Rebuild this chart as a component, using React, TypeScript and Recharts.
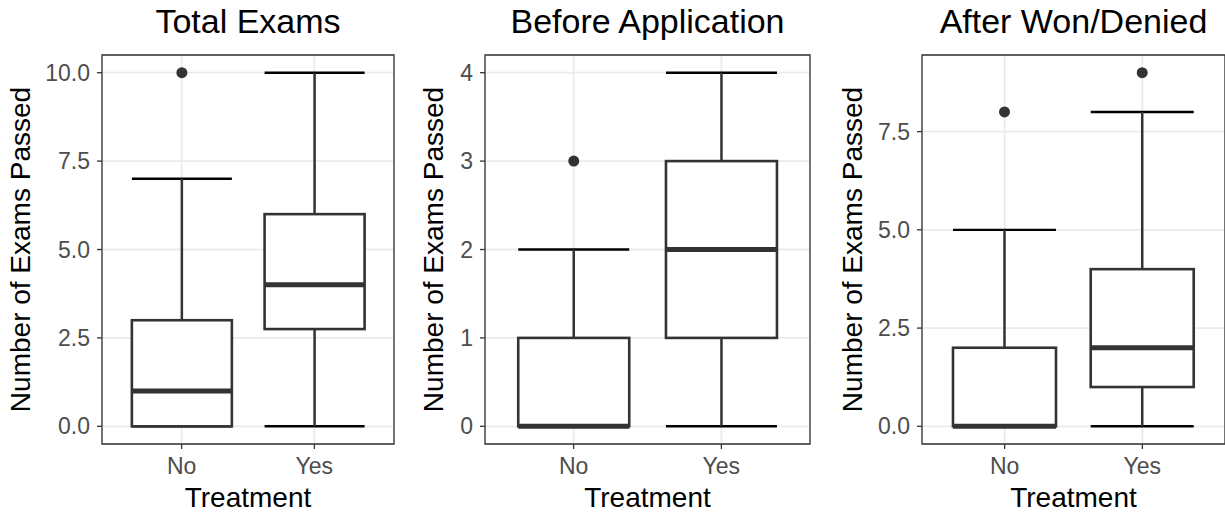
import React from "react";
import {
  ComposedChart,
  Bar,
  XAxis,
  YAxis,
  CartesianGrid,
  ReferenceArea,
} from "recharts";

// ---------- data ----------
const CATEGORIES = ["No", "Yes"];

// Panel 1: Total Exams
const totalLower = [0, 0];
const totalQ1 = [0, 2.75];
const totalMedian = [1, 4];
const totalQ3 = [3, 6];
const totalUpper = [7, 10];
const totalOutlier: (number | null)[] = [10, null];
const totalTicks = [0, 2.5, 5, 7.5, 10];
const totalTickLabels = ["0.0", "2.5", "5.0", "7.5", "10.0"];
const totalMinor = [1.25, 3.75, 6.25, 8.75];

// Panel 2: Before Application
const beforeLower = [0, 0];
const beforeQ1 = [0, 1];
const beforeMedian = [0, 2];
const beforeQ3 = [1, 3];
const beforeUpper = [2, 4];
const beforeOutlier: (number | null)[] = [3, null];
const beforeTicks = [0, 1, 2, 3, 4];
const beforeTickLabels = ["0", "1", "2", "3", "4"];
const beforeMinor = [0.5, 1.5, 2.5, 3.5];

// Panel 3: After Won/Denied
const afterLower = [0, 0];
const afterQ1 = [0, 1];
const afterMedian = [0, 2];
const afterQ3 = [2, 4];
const afterUpper = [5, 8];
const afterOutlier: (number | null)[] = [8, 9];
const afterTicks = [0, 2.5, 5, 7.5];
const afterTickLabels = ["0.0", "2.5", "5.0", "7.5"];
const afterMinor = [1.25, 3.75, 6.25, 8.75];

const FONT = '"Liberation Sans", Arial, Helvetica, sans-serif';
const H = 513;
const PLOT_TOP = 55;
const X_AXIS_H = 69;

// ---------- shapes ----------
const WhiskerShape = (p: any) => {
  const { x, y, width, height } = p;
  if (x == null || y == null) return <g />;
  const cx = x + width / 2;
  return (
    <g>
      <line x1={x} x2={x + width} y1={y} y2={y} stroke="#000" strokeWidth={2.4} />
      <line x1={x} x2={x + width} y1={y + height} y2={y + height} stroke="#000" strokeWidth={2.4} />
      <line x1={cx} x2={cx} y1={y} y2={y + height} stroke="#333" strokeWidth={2.5} />
    </g>
  );
};

const BoxShape = (p: any) => {
  const { x, y, width, height } = p;
  if (x == null || y == null) return <g />;
  return <rect x={x} y={y} width={width} height={height} fill="#fff" stroke="#333" strokeWidth={2.6} />;
};

const MedianShape = (p: any) => {
  const { x, y, width } = p;
  if (x == null || y == null) return <g />;
  return <line x1={x} x2={x + width} y1={y} y2={y} stroke="#333" strokeWidth={5} />;
};

const OutlierShape = (p: any) => {
  const { x, y, width, payload } = p;
  if (!payload || payload.outlier == null || x == null || y == null) return <g />;
  return <circle cx={x + width / 2} cy={y} r={5.5} fill="#333" />;
};

type PanelProps = {
  title: string;
  slotLeft: number;
  slotWidth: number;
  plotLeft: number;
  plotRight: number;
  yTitleX: number;
  lower: number[];
  q1: number[];
  median: number[];
  q3: number[];
  upper: number[];
  outlier: (number | null)[];
  ticks: number[];
  tickLabels: string[];
  minor: number[];
};

function BoxPanel(props: PanelProps) {
  const { title, slotLeft, slotWidth, plotLeft, plotRight, yTitleX, lower, q1, median, q3, upper, outlier, ticks, tickLabels, minor } = props;
  const rows = CATEGORIES.map((c, i) => ({
    x: i + 1,
    cat: c,
    whisker: [lower[i], upper[i]],
    box: [q1[i], q3[i]],
    median: [median[i], median[i]],
    outlier: outlier[i] == null ? null : [outlier[i] as number, outlier[i] as number],
  }));
  const allVals = [...lower, ...upper, ...(outlier.filter((v) => v != null) as number[])];
  const dMin = Math.min(...allVals);
  const dMax = Math.max(...allVals);
  const pad = (dMax - dMin) * 0.05;
  const yDomain: [number, number] = [dMin - pad, dMax + pad];
  const xDomain: [number, number] = [0.4, CATEGORIES.length + 0.6];
  const xTicks = CATEGORIES.map((_, i) => i + 1);

  const yAxisWidth = plotLeft - slotLeft;
  const marginRight = slotLeft + slotWidth - plotRight;

  const yTitle = (lp: any) => {
    const vb = lp && lp.viewBox ? lp.viewBox : { x: 0, y: PLOT_TOP, width: yAxisWidth, height: H - PLOT_TOP - X_AXIS_H };
    const cx = vb.x + yTitleX;
    const cy = vb.y + vb.height / 2;
    return (
      <text x={cx} y={cy} transform={`rotate(-90 ${cx} ${cy})`} textAnchor="middle" fontSize={28} fill="#000" fontFamily={FONT}>
        Number of Exams Passed
      </text>
    );
  };

  const hiddenX = (id: string) => (
    <XAxis key={id} xAxisId={id} type="number" dataKey="x" domain={xDomain} ticks={xTicks} height={0} hide />
  );

  const plotCenter = (plotLeft + plotRight) / 2 - slotLeft;

  return (
    <div style={{ position: "absolute", left: slotLeft, top: 0, width: slotWidth, height: H }}>
      <div
        style={{
          position: "absolute",
          left: plotCenter - 200,
          width: 400,
          top: 4,
          textAlign: "center",
          fontSize: 34,
          lineHeight: "34px",
          color: "#000",
          fontFamily: FONT,
          whiteSpace: "nowrap",
        }}
      >
        {title}
      </div>
      <ComposedChart
        width={slotWidth}
        height={H}
        data={rows}
        margin={{ top: PLOT_TOP, right: marginRight, bottom: 0, left: 0 }}
        barCategoryGap="12.5%"
        style={{ fontFamily: FONT }}
      >
        <CartesianGrid xAxisId="main" yAxisId="minor" vertical={false} stroke="#ebebeb" strokeWidth={0.9} />
        <CartesianGrid xAxisId="main" yAxisId="main" stroke="#ebebeb" strokeWidth={1.8} />
        <XAxis
          xAxisId="main"
          type="number"
          dataKey="x"
          domain={xDomain}
          ticks={xTicks}
          interval={0}
          tickFormatter={(v: number) => CATEGORIES[v - 1]}
          height={X_AXIS_H}
          axisLine={false}
          tickSize={5}
          tickMargin={9}
          tickLine={{ stroke: "#333", strokeWidth: 1.3 }}
          tick={{ fill: "#4d4d4d", fontSize: 23, fontFamily: FONT }}
          label={{ value: "Treatment", position: "insideBottom", offset: 6, fill: "#000", fontSize: 28, fontFamily: FONT }}
        />
        {hiddenX("w")}
        {hiddenX("b")}
        {hiddenX("m")}
        {hiddenX("o")}
        <YAxis
          yAxisId="main"
          type="number"
          domain={yDomain}
          ticks={ticks}
          interval={0}
          tickFormatter={(v: number) => tickLabels[ticks.indexOf(v)]}
          width={yAxisWidth}
          axisLine={false}
          tickSize={5}
          tickMargin={7}
          tickLine={{ stroke: "#333", strokeWidth: 1.3 }}
          tick={{ fill: "#4d4d4d", fontSize: 23, fontFamily: FONT }}
          label={{ content: yTitle }}
        />
        <YAxis yAxisId="minor" type="number" domain={yDomain} ticks={minor} width={0} hide />
        <Bar xAxisId="w" yAxisId="main" dataKey="whisker" shape={WhiskerShape} isAnimationActive={false} />
        <Bar xAxisId="b" yAxisId="main" dataKey="box" shape={BoxShape} isAnimationActive={false} />
        <Bar xAxisId="m" yAxisId="main" dataKey="median" shape={MedianShape} isAnimationActive={false} />
        <Bar xAxisId="o" yAxisId="main" dataKey="outlier" shape={OutlierShape} isAnimationActive={false} />
        <ReferenceArea
          xAxisId="main"
          yAxisId="main"
          x1={xDomain[0]}
          x2={xDomain[1]}
          y1={yDomain[0]}
          y2={yDomain[1]}
          fill="none"
          fillOpacity={0}
          stroke="#333"
          strokeWidth={1.3}
        />
      </ComposedChart>
    </div>
  );
}

export default function App() {
  return (
    <div
      style={{
        position: "absolute",
        left: 0,
        top: 0,
        width: 1225,
        height: H,
        background: "#fff",
        overflow: "hidden",
        fontFamily: FONT,
      }}
    >
      <BoxPanel
        title="Total Exams"
        slotLeft={0}
        slotWidth={410}
        plotLeft={102}
        plotRight={394}
        yTitleX={30}
        lower={totalLower}
        q1={totalQ1}
        median={totalMedian}
        q3={totalQ3}
        upper={totalUpper}
        outlier={totalOutlier}
        ticks={totalTicks}
        tickLabels={totalTickLabels}
        minor={totalMinor}
      />
      <BoxPanel
        title="Before Application"
        slotLeft={410}
        slotWidth={410}
        plotLeft={485}
        plotRight={810}
        yTitleX={33}
        lower={beforeLower}
        q1={beforeQ1}
        median={beforeMedian}
        q3={beforeQ3}
        upper={beforeUpper}
        outlier={beforeOutlier}
        ticks={beforeTicks}
        tickLabels={beforeTickLabels}
        minor={beforeMinor}
      />
      <BoxPanel
        title="After Won/Denied"
        slotLeft={820}
        slotWidth={405}
        plotLeft={922}
        plotRight={1225}
        yTitleX={42}
        lower={afterLower}
        q1={afterQ1}
        median={afterMedian}
        q3={afterQ3}
        upper={afterUpper}
        outlier={afterOutlier}
        ticks={afterTicks}
        tickLabels={afterTickLabels}
        minor={afterMinor}
      />
    </div>
  );
}
